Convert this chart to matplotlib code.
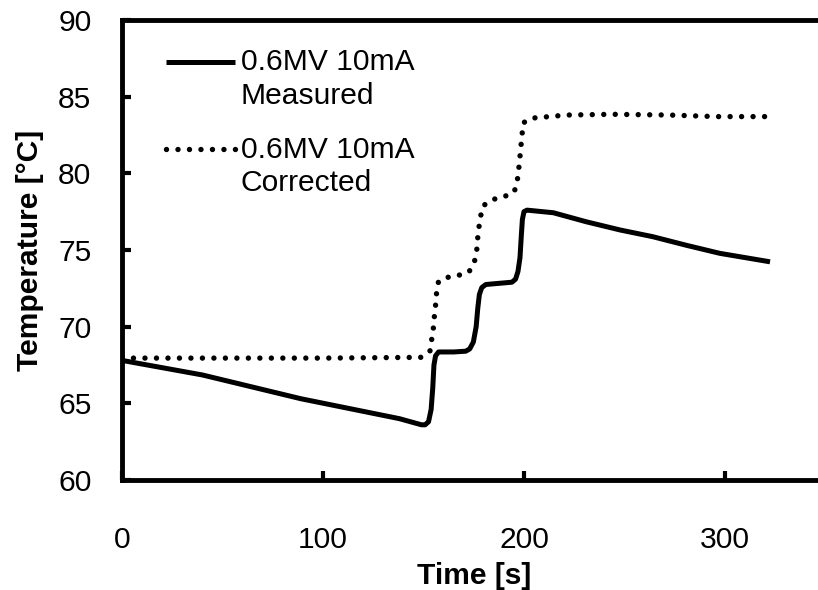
import matplotlib
matplotlib.use("Agg")
import matplotlib.pyplot as plt
from matplotlib.legend_handler import HandlerLine2D

plt.rcParams["font.family"] = ["Liberation Sans", "DejaVu Sans"]

# Measured temperature of the 0.6MV 10mA run
time_measured = [0, 40, 89, 138, 149, 150.8, 152.5, 153.8, 154.6, 155.2, 156,
                 157.5, 165, 171, 173, 174.8, 176.2, 177, 177.8, 179, 181,
                 194, 195.8, 197, 198, 198.7, 199.2, 200, 201.5, 214.6, 231,
                 248, 264, 281, 297.5, 322.4]
temp_measured = [67.8, 66.85, 65.3, 64.0, 63.6, 63.6, 63.8, 64.6, 66.0, 67.5,
                 68.1, 68.35, 68.35, 68.4, 68.55, 69.0, 70.0, 71.2, 72.1,
                 72.55, 72.75, 72.9, 73.1, 73.6, 74.5, 76.0, 77.0, 77.5, 77.6,
                 77.43, 76.84, 76.3, 75.87, 75.3, 74.78, 74.23]

# Corrected temperature of the same run
time_corrected = [0, 100, 148.6, 153.2, 154, 154.9, 155.4, 156, 156.5, 157.4,
                  159, 163, 168, 172.6, 175.3, 176.5, 176.9, 177.6, 178.4,
                  179.8, 184.7, 190.5, 195.2, 196.7, 197.4, 198, 198.5, 199,
                  199.7, 204, 221, 244, 272.6, 295.9, 320]
temp_corrected = [67.95, 67.95, 68.0, 68.4, 69.1, 69.9, 70.65, 71.4, 72.2,
                  72.9, 73.1, 73.25, 73.37, 73.56, 74.2, 75.0, 75.7, 76.5,
                  77.2, 77.9, 78.3, 78.5, 78.8, 79.56, 80.3, 81.1, 81.8, 82.5,
                  83.3, 83.6, 83.8, 83.85, 83.8, 83.7, 83.7]

label_measured = "0.6MV 10mA\nMeasured"
label_corrected = "0.6MV 10mA\nCorrected"

x_ticks = [0, 100, 200, 300]
y_ticks = [60, 65, 70, 75, 80, 85, 90]


class TopLineHandler(HandlerLine2D):
    """Legend handle aligned with the first line of a two-line label."""

    def create_artists(self, legend, orig_handle, xdescent, ydescent,
                       width, height, fontsize, trans):
        artists = super().create_artists(legend, orig_handle, xdescent,
                                         ydescent, width, height, fontsize,
                                         trans)
        shift = 0.6 * fontsize
        for a in artists:
            yd = a.get_ydata()
            a.set_ydata([y + shift for y in yd])
        return artists


FS = 21.6
fig = plt.figure(figsize=(8.18, 5.90), dpi=100)
ax = fig.add_axes([122 / 818, 110 / 590, 703.5 / 818, 460 / 590])

ax.plot(time_measured, temp_measured, color="black", lw=3.6,
        solid_joinstyle="round", solid_capstyle="butt", label=label_measured)
ax.plot(time_corrected, temp_corrected, color="black", lw=3.9,
        linestyle=(0, (0.001, 2.12)), dash_capstyle="round",
        label=label_corrected)

ax.set_xlim(0, 350)
ax.set_ylim(60, 90)
ax.set_xticks(x_ticks)
ax.set_yticks(y_ticks)
ax.tick_params(axis="both", direction="in", length=6.5, width=3.0,
               labelsize=FS, colors="black")
ax.tick_params(axis="x", pad=33)
ax.tick_params(axis="y", pad=22)

for side in ("left", "bottom", "top"):
    ax.spines[side].set_linewidth(3.5)
ax.spines["right"].set_visible(False)

ax.set_xlabel("Time [s]", fontsize=FS, fontweight="bold", labelpad=6)
ax.set_ylabel("Temperature [\u00b0C]", fontsize=FS, fontweight="bold",
              labelpad=10)

leg = ax.legend(loc="upper left", bbox_to_anchor=(0.045, 0.965),
                frameon=False, fontsize=FS, handlelength=2.3,
                handletextpad=0.2, labelspacing=0.85, borderaxespad=0,
                handler_map={plt.Line2D: TopLineHandler()})
for t in leg.get_texts():
    t.set_linespacing(1.27)

fig.savefig("out.png", dpi=100)
